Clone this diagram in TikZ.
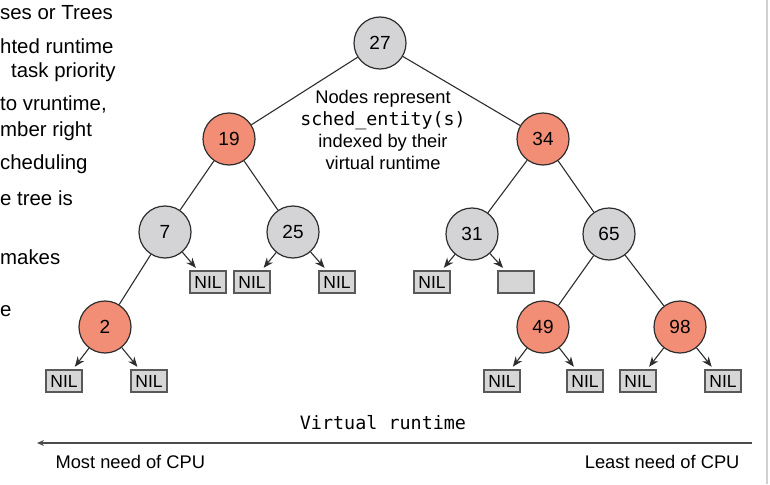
\documentclass[tikz,border=0pt]{standalone}
\usepackage{fontspec}
\setmainfont{Liberation Sans}
\setmonofont{DejaVu Sans Mono}
\usetikzlibrary{arrows.meta,positioning}
\definecolor{nodegray}{RGB}{212,212,214}
\definecolor{nodered}{RGB}{243,142,118}
\definecolor{nilgray}{RGB}{214,214,214}
\definecolor{edgegray}{RGB}{45,45,45}

\begin{document}
\begin{tikzpicture}[
  x=1pt, y=-1pt,
  vnode/.style={circle, draw=edgegray, line width=1.2pt, minimum size=52pt, inner sep=0pt, font=\fontsize{19}{21}\selectfont},
  graynode/.style={vnode, fill=nodegray},
  rednode/.style={vnode, fill=nodered},
  nilbox/.style={draw=black!65, line width=1.8pt, fill=nilgray, minimum width=36pt, minimum height=22pt, inner sep=0pt, font=\fontsize{17.5}{19}\selectfont},
  side/.style={anchor=west, inner sep=0pt, font=\fontsize{20.4}{23}\selectfont},
  edge/.style={draw=edgegray, line width=1.1pt},
  >={Stealth[length=10pt, width=8pt]}
]
  \useasboundingbox (0,0) rectangle (770,484);

  % Cut-off text on the left
  \node[side] (t1) at (0,13) {ses or Trees};
  \node[side] (t2) at (0,46) {hted runtime};
  \node[side] (t3) at (11,72) {task priority};
  \node[side] (t4) at (0,104) {to vruntime,};
  \node[side] (t5) at (0,131) {mber right};
  \node[side] (t6) at (0,164) {cheduling};
  \node[side] (t7) at (0,198) {e tree is};
  \node[side] (t8) at (0,257) {makes};
  \node[side] (t9) at (0,311) {e};

  % Tree nodes
  \node[graynode] (n27) at (380,43) {27};
  \node[rednode] (n19) at (229,139) {19};
  \node[rednode] (n34) at (543,139) {34};
  \node[graynode] (n7) at (165,232) {7};
  \node[graynode] (n25) at (293,232) {25};
  \node[graynode] (n31) at (472,234) {31};
  \node[graynode] (n65) at (609,234) {65};
  \node[rednode] (n2) at (105,327) {2};
  \node[rednode] (n49) at (543,327) {49};
  \node[rednode] (n98) at (680,327) {98};

  % Leaves
  \node[nilbox] (nil7) at (208,282) {NIL};
  \node[nilbox] (nil25l) at (252,282) {NIL};
  \node[nilbox] (nil25r) at (337,282) {NIL};
  \node[nilbox] (nil31) at (432,282) {NIL};
  \node[nilbox] (box31) at (516,282) {};
  \node[nilbox] (nil2l) at (64,381) {NIL};
  \node[nilbox] (nil2r) at (149,381) {NIL};
  \node[nilbox] (nil49l) at (502,381) {NIL};
  \node[nilbox] (nil49r) at (585,381) {NIL};
  \node[nilbox] (nil98l) at (638,381) {NIL};
  \node[nilbox] (nil98r) at (723,381) {NIL};

  % Label in the middle
  \node[align=center, font=\fontsize{18.3}{21.7}\selectfont] (note) at (383,130)
    {Nodes represent\\{\ttfamily sched\_entity(s)}\\indexed by their\\virtual runtime};

  % Edges
  \draw[edge] (n27) -- (n19);
  \draw[edge] (n27) -- (n34);
  \draw[edge] (n19) -- (n7);
  \draw[edge] (n19) -- (n25);
  \draw[edge] (n7) -- (n2);
  \draw[edge] (n34) -- (n31);
  \draw[edge] (n34) -- (n65);
  \draw[edge] (n65) -- (n49);
  \draw[edge] (n65) -- (n98);

  % Arrows to leaves
  \draw[edge, ->, shorten >=3pt] (n7) -- (nil7);
  \draw[edge, ->, shorten >=3pt] (n25) -- (nil25l);
  \draw[edge, ->, shorten >=3pt] (n25) -- (nil25r);
  \draw[edge, ->, shorten >=3pt] (n31) -- (nil31);
  \draw[edge, ->, shorten >=3pt] (n31) -- (box31);
  \draw[edge, ->, shorten >=3pt] (n2) -- (nil2l);
  \draw[edge, ->, shorten >=3pt] (n2) -- (nil2r);
  \draw[edge, ->, shorten >=3pt] (n49) -- (nil49l);
  \draw[edge, ->, shorten >=3pt] (n49) -- (nil49r);
  \draw[edge, ->, shorten >=3pt] (n98) -- (nil98l);
  \draw[edge, ->, shorten >=3pt] (n98) -- (nil98r);

  % Runtime axis
  \node[font=\ttfamily\fontsize{18.4}{21}\selectfont] (vrt) at (383,423) {Virtual runtime};
  \coordinate (axisR) at (752,443);
  \coordinate (axisL) at (37,443);
  \draw[black!70, line width=1.6pt, -{Stealth[length=7pt, width=6pt]}] (axisR) -- (axisL);
  \node[anchor=west, font=\fontsize{18.3}{21}\selectfont] (most) at (52,462) {Most need of CPU};
  \node[anchor=east, font=\fontsize{18.3}{21}\selectfont] (least) at (743,462) {Least need of CPU};

  % Right border
  \draw[black!18, line width=2pt] (767,0) -- (767,484);
\end{tikzpicture}
\end{document}
